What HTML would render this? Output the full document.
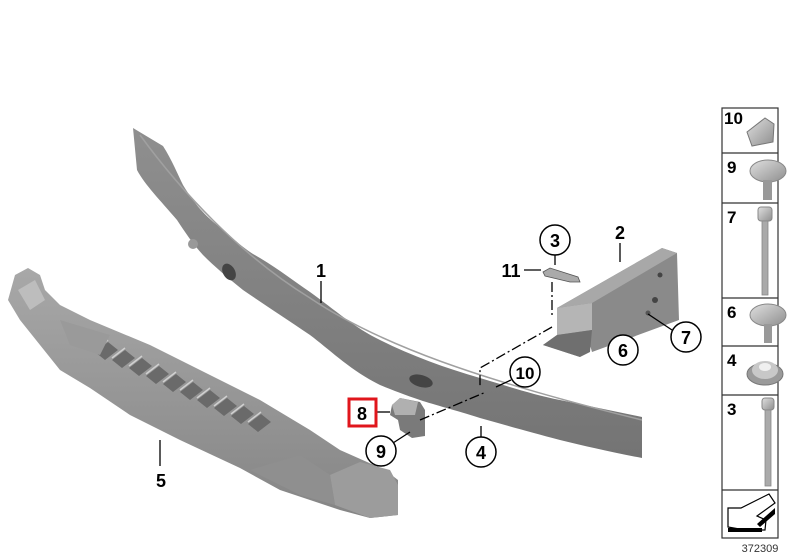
<!DOCTYPE html>
<html><head><meta charset="utf-8"><style>
html,body{margin:0;padding:0;background:#fff;width:800px;height:560px;overflow:hidden}
svg{display:block}
text{font-family:"Liberation Sans",sans-serif;font-weight:bold;fill:#000}
text.n{font-weight:normal;fill:#333}
</style></head><body>
<svg width="800" height="560" viewBox="0 0 800 560" xmlns="http://www.w3.org/2000/svg">
<defs>
<linearGradient id="bg" x1="0" y1="0" x2="0" y2="1"><stop offset="0" stop-color="#8f8f8f"/><stop offset="1" stop-color="#747474"/></linearGradient>
<linearGradient id="ab" x1="0" y1="0" x2="0" y2="1"><stop offset="0" stop-color="#a8a8a8"/><stop offset="1" stop-color="#858585"/></linearGradient>
<linearGradient id="hw" x1="0" y1="0" x2="1" y2="1"><stop offset="0" stop-color="#e0e0e0"/><stop offset="1" stop-color="#8e8e8e"/></linearGradient>
</defs>

<!-- beam 1 -->
<path d="M133,128 L163,146 C172,160 178,175 183,185 C195,205 205,215 217,225 C235,240 245,250 260,258 C280,270 295,282 310,292 C335,310 355,328 380,340 C410,355 445,368 480,378 C510,387 535,395 560,400 L642,417 L642,458 C610,452 585,446 560,440 C530,432 505,425 480,418 C455,410 435,405 420,400 C405,395 392,390 380,385 C350,370 330,350 310,335 C285,318 265,305 243,290 C228,278 215,267 203,255 C192,243 185,232 177,220 C160,200 145,185 137,170 Z" fill="url(#bg)"/>
<path d="M140,135 C180,190 240,255 310,298 C380,345 480,380 642,420" stroke="#a0a0a0" stroke-width="1.5" fill="none"/>
<ellipse cx="229" cy="272" rx="6" ry="9" fill="#444" transform="rotate(-30 229 272)"/>
<ellipse cx="421" cy="381" rx="12" ry="6" fill="#444" transform="rotate(15 421 381)"/>
<circle cx="193" cy="244" r="5" fill="#999"/>
<!-- bracket 2 -->
<path d="M557,308 L662,248 L677,253 L679,320 L592,352 L590,345 L580,357 L543,345 L557,335 Z" fill="#8a8a8a"/>
<path d="M557,308 L662,248 L677,253 L592,303 Z" fill="#a8a8a8"/>
<path d="M557,308 L592,303 L592,330 L557,335 Z" fill="#b5b5b5"/>
<path d="M557,335 L592,330 L590,352 L580,357 L543,345 Z" fill="#6f6f6f"/>
<circle cx="655" cy="300" r="3" fill="#444"/><circle cx="660" cy="275" r="2.5" fill="#444"/><circle cx="648" cy="313" r="2.5" fill="#555"/>
<!-- part 11 -->
<path d="M543,272 L550,268 L578,277 L580,282 L570,282 L545,276 Z" fill="#aaa" stroke="#555" stroke-width="0.8"/>
<!-- absorber 5 -->
<path d="M15,275 L28,268 L40,275 L45,290 L60,305 L90,320 L150,345 L200,370 L260,400 L310,430 L340,450 L385,470 L398,480 L398,515 L370,518 L340,510 L310,500 L280,490 L240,468 L180,440 L130,415 L90,388 L60,370 L40,345 L20,320 L8,300 Z" fill="url(#ab)"/>
<g fill="#6a6a6a">
<path d="M95,352 L108,342 L118,350 L105,360 Z M112,360 L125,350 L135,358 L122,368 Z M129,368 L142,358 L152,366 L139,376 Z M146,376 L159,366 L169,374 L156,384 Z M163,384 L176,374 L186,382 L173,392 Z M180,392 L193,382 L203,390 L190,400 Z M197,400 L210,390 L220,398 L207,408 Z M214,408 L227,398 L237,406 L224,416 Z M231,416 L244,406 L254,414 L241,424 Z M248,424 L261,414 L271,422 L258,432 Z"/>
</g>
<g stroke="#d0d0d0" stroke-width="1.5" fill="none">
<path d="M95,350 L108,340 M112,358 L125,348 M129,366 L142,356 M146,374 L159,364 M163,382 L176,372 M180,390 L193,380 M197,398 L210,388 M214,406 L227,396 M231,414 L244,404 M248,422 L261,412"/>
</g>
<path d="M110,345 L240,412 L250,445 L120,380 Z" fill="none"/>
<path d="M330,475 L360,462 L390,470 L398,485 L398,515 L370,518 L335,505 Z" fill="#9c9c9c"/>
<path d="M250,470 L300,455 L330,475 L335,505 L300,495 Z" fill="#8f8f8f"/>
<path d="M18,290 L35,280 L45,300 L30,310 Z" fill="#bdbdbd"/>
<path d="M60,320 L110,335 L100,355 L70,345 Z" fill="#9a9a9a"/>
<!-- part 8 -->
<path d="M392,405 L400,398 L420,402 L425,410 L425,436 L412,438 L400,430 L398,420 L390,415 Z" fill="#7a7a7a"/>
<path d="M392,405 L400,398 L418,402 L415,415 L395,415 Z" fill="#b0b0b0"/>

<!-- leaders -->
<g stroke="#000" stroke-width="1.3" fill="none">
<line x1="321" y1="281" x2="321" y2="303"/>
<line x1="620" y1="243" x2="620" y2="262"/>
<line x1="524" y1="270" x2="541" y2="270"/>
<line x1="555" y1="255" x2="555" y2="265"/>
<line x1="672" y1="330" x2="648" y2="314"/>
<line x1="481" y1="437" x2="481" y2="426"/>
<line x1="160" y1="466" x2="160" y2="440"/>
<line x1="376" y1="412" x2="390" y2="412"/>
<line x1="393" y1="443" x2="410" y2="432"/>
<line x1="511" y1="380" x2="496" y2="387"/>
</g>
<g stroke="#000" stroke-width="1.3" fill="none" stroke-dasharray="10,3,2,3">
<path d="M552,282 L552,318"/>
<path d="M552,327 L480,368 L480,386"/>
<path d="M420,420 L486,392"/>
</g>

<!-- labels -->
<g fill="#fff" stroke="#000" stroke-width="1.5">
<circle cx="555" cy="240" r="15"/><circle cx="686" cy="337" r="15"/><circle cx="623" cy="350" r="15"/>
<circle cx="525" cy="372" r="15"/><circle cx="381" cy="451" r="15"/><circle cx="481" cy="452" r="15"/>
</g>
<g font-size="18" text-anchor="middle">
<text x="555" y="247">3</text><text x="686" y="344">7</text><text x="623" y="357">6</text>
<text x="525" y="379" font-size="17">10</text><text x="381" y="458">9</text><text x="481" y="459">4</text>
<text x="321" y="277">1</text><text x="620" y="239">2</text><text x="511" y="277">11</text>
<text x="161" y="487">5</text><text x="362" y="420">8</text>
</g>
<rect x="349" y="399" width="27" height="27" fill="none" stroke="#e0161c" stroke-width="3"/>

<!-- right panel -->
<g fill="none" stroke="#333" stroke-width="1.2">
<rect x="722" y="108" width="56" height="430"/>
<line x1="722" y1="153" x2="778" y2="153"/><line x1="722" y1="203" x2="778" y2="203"/>
<line x1="722" y1="298" x2="778" y2="298"/><line x1="722" y1="346" x2="778" y2="346"/>
<line x1="722" y1="395" x2="778" y2="395"/><line x1="722" y1="490" x2="778" y2="490"/>
</g>
<g font-size="17">
<text x="724" y="124">10</text><text x="727" y="173">9</text><text x="727" y="223">7</text>
<text x="727" y="318">6</text><text x="727" y="366">4</text><text x="727" y="415">3</text>
</g>
<path d="M747,132 L765,118 L774,124 L773,142 L752,146 Z" fill="url(#hw)" stroke="#777"/>
<ellipse cx="768" cy="171" rx="18" ry="11" fill="url(#hw)" stroke="#888"/>
<rect x="763" y="180" width="9" height="20" fill="#999"/>
<rect x="758" y="207" width="14" height="14" rx="3" fill="url(#hw)" stroke="#888"/>
<rect x="762" y="221" width="6" height="74" fill="#aaa" stroke="#888" stroke-width="0.8"/>
<ellipse cx="768" cy="315" rx="18" ry="11" fill="url(#hw)" stroke="#888"/>
<rect x="764" y="324" width="8" height="19" fill="#999"/>
<ellipse cx="765" cy="374" rx="18" ry="11" fill="#9a9a9a" stroke="#777"/>
<ellipse cx="765" cy="370" rx="13" ry="9" fill="#c8c8c8"/><ellipse cx="765" cy="367" rx="6" ry="4" fill="#f0f0f0"/>
<rect x="762" y="398" width="12" height="12" rx="3" fill="url(#hw)" stroke="#888"/>
<rect x="765" y="410" width="6" height="76" fill="#aaa" stroke="#888" stroke-width="0.8"/>
<path d="M728,527 L728,508 L741,508 L769,494 L775,503 L757,516 L766,520 L765,530 L745,530 Z" fill="#fff" stroke="#000" stroke-width="1.2"/>
<path d="M728,528 L762,528 L762,532 L728,532 Z M757,524 L775,508 L775,514 L760,527 Z" fill="#000"/>
<text class="n" x="760" y="552" font-size="11" text-anchor="middle">372309</text>
</svg>
</body></html>
